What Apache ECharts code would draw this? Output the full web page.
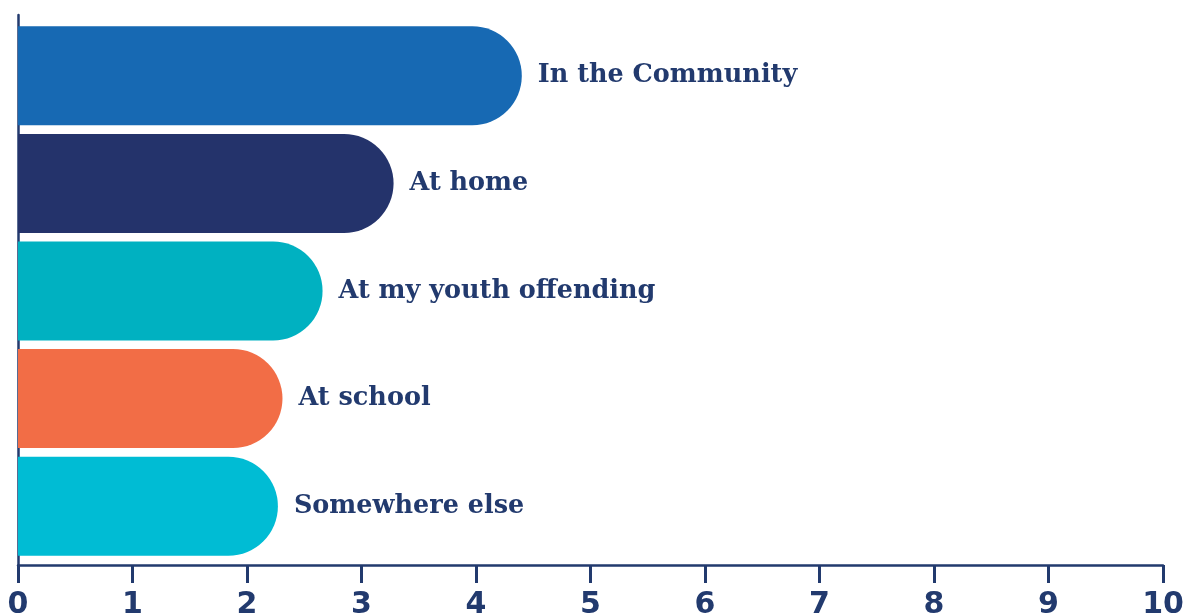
<!DOCTYPE html>
<html><head><meta charset="utf-8">
<script src="https://cdn.jsdelivr.net/npm/echarts@6/dist/echarts.min.js"></script>
<style>html,body{margin:0;padding:0;background:#fff}#c{width:1183px;height:615px}</style>
</head><body><div id="c"></div>
<script>
const categories = ["In the Community", "At home", "At my youth offending", "At school", "Somewhere else"];
const values = [4.40, 3.28, 2.66, 2.31, 2.27];
const colors = ["#1769b3", "#24336b", "#00b1c1", "#f26d46", "#00bcd4"];
const xTicks = [0, 1, 2, 3, 4, 5, 6, 7, 8, 9, 10];

const navy = "#223a6e";
const chart = echarts.init(document.getElementById('c'));
chart.setOption({
  animation: false,
  grid: [
    { left: 18, right: 20, top: 22, bottom: 55, outerBoundsMode: 'none', containLabel: false },
    { left: 18, right: 20, top: 15, bottom: 50, outerBoundsMode: 'none', containLabel: false }
  ],
  xAxis: [{
    type: 'value', gridIndex: 0, min: xTicks[0], max: xTicks[xTicks.length - 1], interval: 1, offset: 5,
    axisLine: { show: true, lineStyle: { color: navy, width: 2.5 } },
    axisTick: { show: true, inside: false, length: 18, lineStyle: { color: navy, width: 3 } },
    splitLine: { show: false },
    axisLabel: { color: navy, fontFamily: 'DejaVu Sans', fontWeight: 'bold', fontSize: 30, margin: 25 }
  }, {
    type: 'value', gridIndex: 1, show: false
  }],
  yAxis: [{
    type: 'category', gridIndex: 0, data: categories, inverse: true,
    axisLine: { show: false }, axisTick: { show: false }, axisLabel: { show: false }
  }, {
    type: 'value', gridIndex: 1,
    axisLine: { show: true, lineStyle: { color: navy, width: 2.5 } },
    axisTick: { show: false }, axisLabel: { show: false }, splitLine: { show: false }
  }],
  series: [{
    type: 'bar',
    xAxisIndex: 0, yAxisIndex: 0,
    barWidth: 99,
    data: values.map((v, i) => ({ value: v, itemStyle: { color: colors[i] } })),
    itemStyle: { borderRadius: [0, 50, 50, 0] },
    label: {
      show: true, position: 'right', distance: 16,
      formatter: p => categories[p.dataIndex],
      color: navy, fontFamily: 'DejaVu Serif', fontWeight: 'bold', fontSize: 25.5
    }
  }]
});
</script></body></html>
